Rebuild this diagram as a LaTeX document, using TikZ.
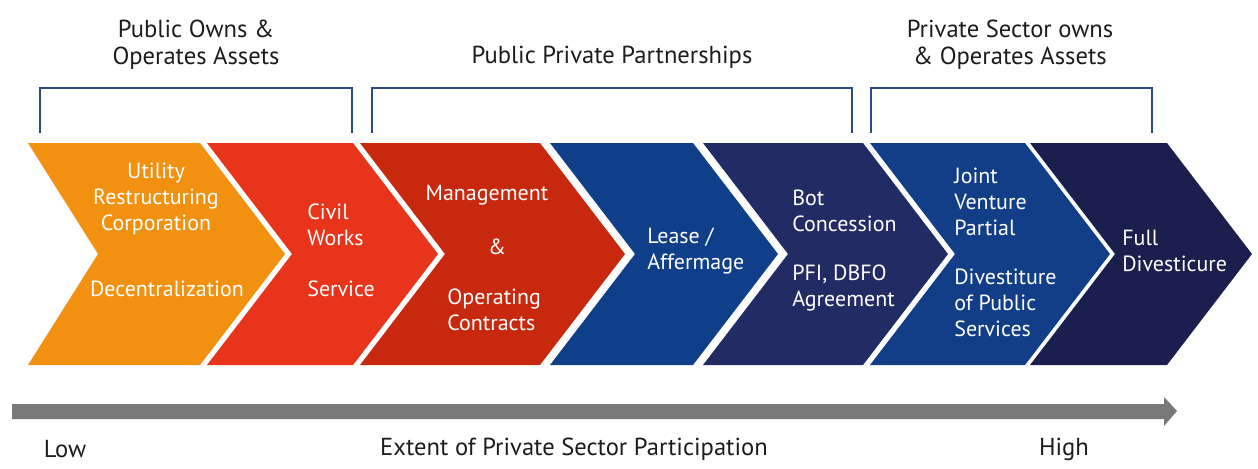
\documentclass[tikz,border=0pt]{standalone}
\usepackage{fontspec}
\setmainfont{PT Sans}
\usepackage{xcolor}
\usepackage{tikz}
\usetikzlibrary{positioning,arrows.meta,calc}

\definecolor{chevA}{HTML}{F2900F}
\definecolor{chevB}{HTML}{E8341A}
\definecolor{chevC}{HTML}{C8290E}
\definecolor{chevD}{HTML}{0E3F88}
\definecolor{chevE}{HTML}{232B64}
\definecolor{chevF}{HTML}{113E86}
\definecolor{chevG}{HTML}{1B1F4D}
\definecolor{brk}{HTML}{2A4A8A}
\definecolor{ink}{HTML}{1C1C1C}

\begin{document}
\begin{tikzpicture}[
    x=0.02cm, y=-0.02cm,
    head/.style={font=\fontsize{14}{15.4}\selectfont, text=ink, align=center, inner sep=0pt},
    lbl/.style={font=\fontsize{12.5}{14.8}\selectfont, text=white, inner sep=0pt},
    lblL/.style={lbl, anchor=west, align=left},
    lblC/.style={lbl, align=center},
    bracket/.style={draw=brk, line width=1.4pt},
    axis/.style={font=\fontsize{14}{16}\selectfont, text=ink, inner sep=0pt}
]
\useasboundingbox (0,0) rectangle (1258,468);

% chevrons: left x / right x / notch depth / colour
\foreach \xa/\xb/\nd/\col in {28/200/70/chevA, 207/353/85/chevB, 360/540/85/chevC,
    550/693/85/chevD, 703/863/85/chevE, 870/1025/85/chevF, 1030/1167/85/chevG}
  \fill[\col] (\xa,143) -- (\xb,143) -- (\xb+85,254) -- (\xb,365) -- (\xa,365) -- (\xa+\nd,254) -- cycle;

% headings and brackets
\node[head] (pubown) at (196,45) {Public Owns \&\\Operates Assets};
\node[head] (ppp) at (612,57) {Public Private Partnerships};
\node[head] (privown) at (1010,45) {Private Sector owns\\\& Operates Assets};
\draw[bracket] (40,133) -- (40,88) -- (352,88) -- (352,133);
\draw[bracket] (372,133) -- (372,88) -- (852,88) -- (852,133);
\draw[bracket] (871,133) -- (871,88) -- (1152,88) -- (1152,133);

% chevron texts
\node[lblC] (util) at (156,199) {Utility\\Restructuring\\Corporation};
\node[lblC] (decen) at (167,289) {Decentralization};
\node[lblL] (civil) at (307,225) {Civil\\Works};
\node[lblL] (serv) at (307,289) {Service};
\node[lblC] (mgmt) at (487,195) {Management};
\node[lblC] (amp) at (497,247) {\&};
\node[lblL] (oper) at (447,310) {Operating\\Contracts};
\node[lblL] (lease) at (647,251) {Lease /\\Affermage};
\node[lblL] (bot) at (792,211) {Bot\\Concession};
\node[lblL] (pfi) at (792,288) {PFI, DBFO\\Agreement};
\node[lblL] (joint) at (954,202) {Joint\\Venture\\Partial};
\node[lblL] (divpub) at (954,303) {Divestiture\\of Public\\Services};
\node[lblL] (full) at (1122,251) {Full\\Divesticure};

% participation arrow
\fill[gray!95!black] (12,404) -- (1164,404) -- (1164,397) -- (1177,411) -- (1164,426) -- (1164,419) -- (12,419) -- cycle;
\node[axis] (low) at (65,449) {Low};
\node[axis] (extent) at (574,449) {Extent of Private Sector Participation};
\node[axis] (high) at (1064,449) {High};
\end{tikzpicture}
\end{document}
